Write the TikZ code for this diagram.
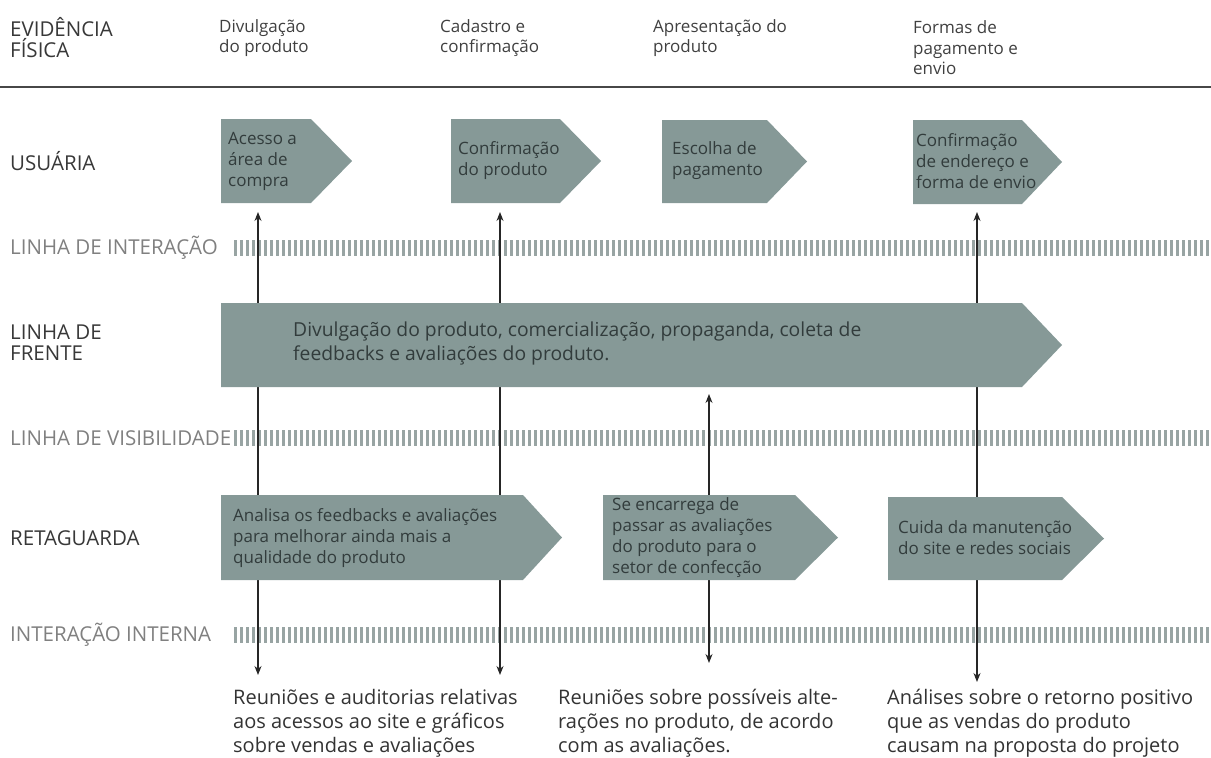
\documentclass[tikz,border=0pt]{standalone}
\usepackage{fontspec}
\setmainfont{Open Sans}
\usetikzlibrary{arrows.meta}
\definecolor{caixa}{RGB}{134,153,151}
\definecolor{textocaixa}{RGB}{50,60,60}
\definecolor{listra}{RGB}{152,164,163}
\definecolor{cinzaclaro}{RGB}{128,128,128}
\def\etapa(#1,#2)(#3,#4,#5){\fill[caixa] (#1,#2) -- (#3,#2) -- (#4,{(#2+#5)/2}) -- (#3,#5) -- (#1,#5) -- cycle;}
\tikzset{
  rotulo/.style={anchor=west, align=left, inner sep=0pt, text=black!78, font=\fontsize{20.5}{21}\selectfont},
  rotuloclaro/.style={rotulo, text=cinzaclaro},
  coluna/.style={anchor=west, align=left, inner sep=0pt, text=black!75, font=\fontsize{17}{20.5}\selectfont},
  txtcaixa/.style={anchor=west, align=left, inner sep=0pt, text=textocaixa, font=\fontsize{17}{21}\selectfont},
  txtgrande/.style={anchor=west, align=left, inner sep=0pt, text=textocaixa, font=\fontsize{19.3}{24}\selectfont},
  rodape/.style={anchor=west, align=left, inner sep=0pt, text=black!80, font=\fontsize{20}{24}\selectfont},
  listras/.style={listra, line width=16pt, dash pattern=on 3pt off 3pt},
  seta/.style={line width=1.2pt, black!85, {Stealth[length=9pt,width=7pt]}-{Stealth[length=9pt,width=7pt]}},
}
\begin{document}
\begin{tikzpicture}[x=1pt, y=-1pt]
			\useasboundingbox (0,0) rectangle (1211,758);
			%%%%% CABECALHO %%%%%
			\node[rotulo] (evid) at (10,38) {EVIDÊNCIA\\FÍSICA};
			\node[coluna] (c1) at (219,38) {Divulgação\\do produto};
			\node[coluna] (c2) at (440,38) {Cadastro e\\confirmação};
			\node[coluna] (c3) at (653,38) {Apresentação do\\produto};
			\node[coluna] (c4) at (913,48) {Formas de\\pagamento e\\envio};
			\draw[line width=2.5pt, black!72] (0,87) -- (1211,87);
			
			%%%%% LINHAS %%%%%
			\node[rotulo] (usu) at (10,161) {USUÁRIA};
			\node[rotuloclaro] (linter) at (10,248) {LINHA DE INTERAÇÃO};
			\node[rotulo] (lfrente) at (10,343) {LINHA DE\\FRENTE};
			\node[rotuloclaro] (lvis) at (10,438) {LINHA DE VISIBILIDADE};
			\node[rotulo] (ret) at (10,538) {RETAGUARDA};
			\node[rotuloclaro] (lint) at (10,635) {INTERAÇÃO INTERNA};
			
			\draw[listras] (234,248) -- (1211,248);
			\draw[listras] (234,438) -- (1211,438);
			\draw[listras] (234,635) -- (1211,635);
			
			%%%%% SETAS %%%%%
			\coordinate (s1a) at (258,212);
			\coordinate (s1b) at (258,675);
			\coordinate (s2a) at (500,212);
			\coordinate (s2b) at (500,675);
			\coordinate (s3a) at (709,394);
			\coordinate (s3b) at (709,663);
			\coordinate (s4a) at (977,212);
			\coordinate (s4b) at (977,682);
			\draw[seta] (s1a) -- (s1b);
			\draw[seta] (s2a) -- (s2b);
			\draw[seta] (s3a) -- (s3b);
			\draw[seta] (s4a) -- (s4b);
			
			%%%%% CAIXAS %%%%%
			\etapa(221,119)(311,352,203)
			\etapa(451,119)(560,601,203)
			\etapa(662,120)(767,807,203)
			\etapa(913,120)(1022,1062,204)
			\etapa(221,303)(1022,1062,387)
			\etapa(221,495)(523,562,580)
			\etapa(603,495)(795,838,580)
			\etapa(888,497)(1062,1104,580)
			
			\node[txtcaixa] (u1) at (228,161) {Acesso a\\área de\\compra};
			\node[txtcaixa] (u2) at (458,161) {Confirmação\\do produto};
			\node[txtcaixa] (u3) at (672,161) {Escolha de\\pagamento};
			\node[txtcaixa] (u4) at (916,161) {Confirmação\\de endereço e\\forma de envio};
			\node[txtgrande] (f1) at (293,343) {Divulgação do produto, comercialização, propaganda, coleta de\\feedbacks e avaliações do produto.};
			\node[txtcaixa] (r1) at (233,538) {Analisa os feedbacks e avaliações\\para melhorar ainda mais a\\qualidade do produto};
			\node[txtcaixa] (r2) at (612,538) {Se encarrega de\\passar as avaliações\\do produto para o\\setor de confecção};
			\node[txtcaixa] (r3) at (898,538) {Cuida da manutenção\\do site e redes sociais};
			
			%%%%% RODAPE %%%%%
			\node[rodape] (b1) at (233,723) {Reuniões e auditorias relativas\\aos acessos ao site e gráficos\\sobre vendas e avaliações};
			\node[rodape] (b2) at (558,723) {Reuniões sobre possíveis alte-\\rações no produto, de acordo\\com as avaliações.};
			\node[rodape] (b3) at (887,723) {Análises sobre o retorno positivo\\que as vendas do produto\\causam na proposta do projeto};
\end{tikzpicture}
\end{document}
